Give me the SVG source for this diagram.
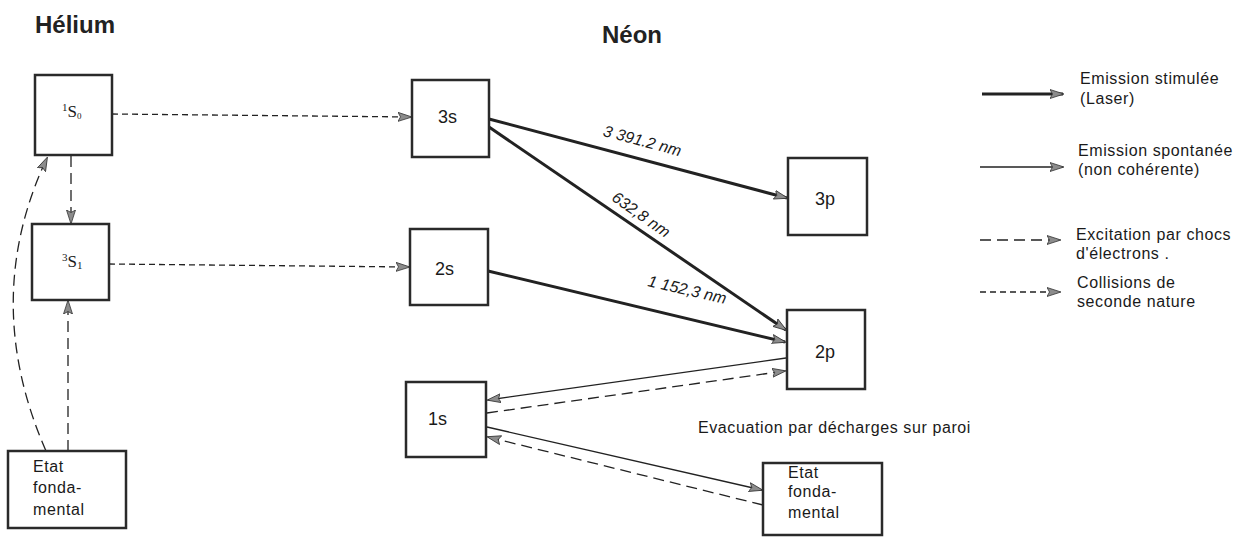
<svg xmlns="http://www.w3.org/2000/svg" width="1247" height="537" viewBox="0 0 1247 537">
<defs>
<marker id="ah" viewBox="0 0 14 10" refX="13" refY="5" markerWidth="14" markerHeight="10" markerUnits="userSpaceOnUse" orient="auto">
<path d="M0,0.5 L14,5 L0,9.5 L2.5,5 Z" fill="#8c8c8c" stroke="#333" stroke-width="0.8"/>
</marker>
</defs>
<style>
.box{fill:#fff;stroke:#2a2a2a;stroke-width:2.5}
.lbl{font-family:"Liberation Sans",Arial,sans-serif;font-size:18px;fill:#1a1a1a}
.txt{font-family:"Liberation Sans",Arial,sans-serif;font-size:16px;fill:#1a1a1a;letter-spacing:0.6px}
.box-t{font-family:"Liberation Sans",Arial,sans-serif;font-size:16px;fill:#1a1a1a;letter-spacing:0.6px}
.ser{font-family:"Liberation Serif","Times New Roman",serif;font-size:17px;fill:#1a1a1a}
.head{font-family:"Liberation Sans",Arial,sans-serif;font-weight:bold;font-size:24px;fill:#222}
.wl{font-family:"Liberation Sans",Arial,sans-serif;font-style:italic;font-size:16px;fill:#1a1a1a}
.laser{stroke:#222;stroke-width:3;fill:none;marker-end:url(#ah)}
.spont{stroke:#222;stroke-width:1.3;fill:none;marker-end:url(#ah)}
.exc{stroke:#222;stroke-width:1.3;stroke-dasharray:11 6;fill:none;marker-end:url(#ah)}
.coll{stroke:#222;stroke-width:1.3;stroke-dasharray:6 4;fill:none;marker-end:url(#ah)}
</style>
<rect width="1247" height="537" fill="#fff"/>

<text class="head" x="35" y="33">Hélium</text>
<text class="head" x="602" y="43">Néon</text>

<g id="connectors">
<line class="coll" x1="112" y1="114" x2="411" y2="117"/>
<line class="coll" x1="109" y1="264" x2="409" y2="267"/>
<line class="exc" x1="71" y1="156" x2="71" y2="223"/>
<line class="exc" x1="68" y1="451" x2="68" y2="301"/>
<path class="exc" d="M46,451 Q-20,300 47,158"/>
<line class="laser" x1="489" y1="119" x2="787" y2="198"/>
<line class="laser" x1="489" y1="127" x2="786" y2="330"/>
<line class="laser" x1="488" y1="271" x2="785" y2="342"/>
<line class="spont" x1="786" y1="358" x2="488" y2="400"/>
<line class="exc" x1="487" y1="413" x2="785" y2="371"/>
<line class="spont" x1="487" y1="427" x2="762" y2="490"/>
<line class="exc" x1="763" y1="505" x2="488" y2="437"/>
</g>

<g id="wavelengths">
<text class="wl" text-anchor="middle" transform="translate(641,146) rotate(15)">3 391.2 nm</text>
<text class="wl" text-anchor="middle" transform="translate(638,219) rotate(35)">632,8 nm</text>
<text class="wl" text-anchor="middle" transform="translate(686,295) rotate(13)">1 152,3 nm</text>
</g>

<g id="he1s">
<rect class="box" x="35" y="75" width="77" height="80"/>
<text class="ser" x="62" y="117"><tspan font-size="11" dy="-6">1</tspan><tspan dy="6">S</tspan><tspan font-size="9" dy="2">0</tspan></text>
</g>
<g id="he3s">
<rect class="box" x="32" y="224" width="77" height="76"/>
<text class="ser" x="62" y="267"><tspan font-size="11" dy="-6">3</tspan><tspan dy="6">S</tspan><tspan font-size="11" dy="2">1</tspan></text>
</g>
<g id="heground">
<rect class="box" x="8" y="451" width="118" height="77"/>
<text class="box-t" x="33" y="472">Etat</text>
<text class="box-t" x="33" y="493">fonda-</text>
<text class="box-t" x="33" y="515">mental</text>
</g>

<g id="ne3s">
<rect class="box" x="412" y="80" width="77" height="77"/>
<text class="lbl" x="438" y="123">3s</text>
</g>
<g id="ne2s">
<rect class="box" x="410" y="229" width="78" height="76"/>
<text class="lbl" x="435" y="275">2s</text>
</g>
<g id="ne3p">
<rect class="box" x="788" y="158" width="79" height="77"/>
<text class="lbl" x="815" y="205">3p</text>
</g>
<g id="ne2p">
<rect class="box" x="787" y="310" width="78" height="79"/>
<text class="lbl" x="815" y="358">2p</text>
</g>
<g id="ne1s">
<rect class="box" x="406" y="382" width="80" height="75"/>
<text class="lbl" x="428" y="425">1s</text>
</g>
<g id="neground">
<rect class="box" x="763" y="463" width="119" height="72"/>
<text class="box-t" x="788" y="478">Etat</text>
<text class="box-t" x="788" y="497">fonda-</text>
<text class="box-t" x="788" y="518">mental</text>
</g>

<text class="txt" x="698" y="433">Evacuation par décharges sur paroi</text>

<g id="legend">
<line class="laser" x1="982" y1="94" x2="1063" y2="94"/>
<text class="txt" x="1080" y="84">Emission stimulée</text>
<text class="txt" x="1080" y="104">(Laser)</text>
<line class="spont" x1="980" y1="167" x2="1063" y2="167"/>
<text class="txt" x="1078" y="156">Emission spontanée</text>
<text class="txt" x="1078" y="175">(non cohérente)</text>
<line class="exc" x1="980" y1="240" x2="1060" y2="240"/>
<text class="txt" x="1076" y="240">Excitation par chocs</text>
<text class="txt" x="1076" y="259">d'électrons    .</text>
<line class="coll" x1="980" y1="292" x2="1060" y2="292"/>
<text class="txt" x="1077" y="288">Collisions de</text>
<text class="txt" x="1077" y="307">seconde nature</text>
</g>
</svg>
